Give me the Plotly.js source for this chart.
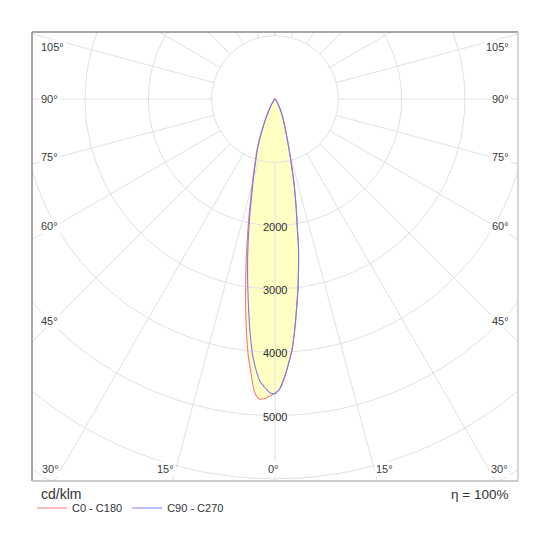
<!DOCTYPE html>
<html>
<head>
<meta charset="utf-8">
<script src="https://cdn.plot.ly/plotly-3.0.1.min.js"></script>
<style>
  html, body { margin: 0; padding: 0; background: #fff; }
  #ldc { width: 550px; height: 550px; }
</style>
</head>
<body>
<div id="ldc"></div>
<script>
// gamma angle from nadir (deg) and luminous intensity (cd/klm) per C-plane
var gamma = [0, 1, 2, 3, 4, 5, 6, 7, 8, 9, 10, 11, 12, 13, 14, 15, 16, 18, 20, 22.5, 25, 27.5, 30, 35, 40, 50, 60, 70, 80, 90];
var c0   = [4650, 4570, 4390, 4170, 3940, 3620, 3290, 2990, 2670, 2370, 2020, 1760, 1520, 1300, 1090, 920, 780, 575, 445, 330, 235, 165, 110, 52, 26, 10, 5, 3, 1, 0];
var c180 = [4650, 4690, 4735, 4745, 4640, 4350, 4060, 3700, 3330, 2960, 2630, 2310, 2030, 1780, 1560, 1385, 1230, 985, 800, 555, 370, 245, 155, 72, 36, 12, 5, 3, 1, 0];
var c90  = [4650, 4570, 4390, 4170, 3940, 3620, 3290, 2990, 2670, 2370, 2010, 1750, 1510, 1290, 1080, 910, 770, 565, 440, 325, 230, 160, 105, 50, 25, 10, 5, 3, 1, 0];
var c270 = [4650, 4640, 4560, 4470, 4290, 4060, 3740, 3400, 3070, 2770, 2480, 2200, 1940, 1700, 1490, 1330, 1190, 955, 773, 530, 355, 235, 150, 70, 35, 12, 5, 3, 1, 0];

var ringValues = [1000, 2000, 3000, 4000, 5000, 6000, 7000, 8000];
var valueLabels = [2000, 3000, 4000, 5000];
var sideAngles = [45, 60, 75, 90, 105];
var bottomAngles = [0, 15, 30];
var unitText = 'cd/klm';
var etaText = 'η = 100%';
var planeNames = ['C0 - C180', 'C90 - C270'];

var RED = '#f47a7a', BLUE = '#7a7af4', FILL = '#ffffc4', GRID = '#e0e0e0';
var FONT = 'Arial, "Liberation Sans", sans-serif';
var rad = Math.PI / 180;

// left half (plane b) from 90 down to 0, then right half (plane a) from 0 up to 90
function planePair(a, b) {
  var x = [], y = [];
  for (var i = gamma.length - 1; i >= 0; i--) {
    x.push(-b[i] * Math.sin(gamma[i] * rad));
    y.push(-b[i] * Math.cos(gamma[i] * rad));
  }
  for (var j = 1; j < gamma.length; j++) {
    x.push(a[j] * Math.sin(gamma[j] * rad));
    y.push(-a[j] * Math.cos(gamma[j] * rad));
  }
  return {x: x, y: y};
}

var red = planePair(c0, c180);
var blue = planePair(c90, c270);

// polar grid: rings and rays every 15 deg, rays start at the first ring
var gx = [], gy = [];
ringValues.forEach(function(r) {
  for (var a = 0; a <= 360; a += 2) {
    gx.push(r * Math.sin(a * rad));
    gy.push(-r * Math.cos(a * rad));
  }
  gx.push(null); gy.push(null);
});
for (var a = -180; a <= 180; a += 15) {
  gx.push(1000 * Math.sin(a * rad), 9000 * Math.sin(a * rad), null);
  gy.push(-1000 * Math.cos(a * rad), -9000 * Math.cos(a * rad), null);
}

var smooth = {shape: 'spline', smoothing: 0.7};
var data = [
  {x: red.x, y: red.y, mode: 'lines', fill: 'toself', fillcolor: FILL,
   line: Object.assign({width: 0, color: FILL}, smooth), showlegend: false, hoverinfo: 'skip'},
  {x: blue.x, y: blue.y, mode: 'lines', fill: 'toself', fillcolor: FILL,
   line: Object.assign({width: 0, color: FILL}, smooth), showlegend: false, hoverinfo: 'skip'},
  {x: gx, y: gy, mode: 'lines', line: {color: GRID, width: 1}, showlegend: false, hoverinfo: 'skip'},
  {x: red.x, y: red.y, mode: 'lines', name: planeNames[0], line: Object.assign({color: RED, width: 1.1}, smooth)},
  {x: blue.x, y: blue.y, mode: 'lines', name: planeNames[1], line: Object.assign({color: BLUE, width: 1.1}, smooth)}
];

var annotations = [];
function angleLabel(x, y, txt, anchor) {
  annotations.push({
    x: x, y: y, xref: 'x', yref: 'y', text: txt, showarrow: false,
    xanchor: anchor, yanchor: 'middle', bgcolor: 'white', borderpad: 1,
    font: {family: FONT, size: 11, color: '#3a3a3a'}
  });
}
sideAngles.forEach(function(g) {
  var yy = Math.min(-3540 / Math.tan(g * rad) + 35, 821);
  if (g === 90) yy = 0;
  angleLabel(-3720, yy, g + '°', 'left');
  angleLabel(3720, yy, g + '°', 'right');
});
bottomAngles.forEach(function(g) {
  var xx = 5844 * Math.tan(g * rad);
  if (g === 0) {
    angleLabel(-20, -5844, g + '°', 'center');
  } else {
    angleLabel(-xx, -5844, g + '°', 'right');
    angleLabel(xx, -5844, g + '°', 'left');
  }
});
valueLabels.forEach(function(v) {
  annotations.push({
    x: 0, y: -v - 20, xref: 'x', yref: 'y', text: String(v), showarrow: false,
    font: {family: FONT, size: 11, color: '#2e2e2e'}
  });
});
annotations.push(
  {x: 0.0144, y: -0.0296, xref: 'paper', yref: 'paper', text: unitText, showarrow: false,
   xanchor: 'left', yanchor: 'middle', font: {family: FONT, size: 14, color: '#333'}},
  {x: 0.984, y: -0.0296, xref: 'paper', yref: 'paper', text: etaText, showarrow: false,
   xanchor: 'right', yanchor: 'middle', font: {family: FONT, size: 13.5, color: '#333'}}
);

var layout = {
  width: 550,
  height: 550,
  margin: {l: 32, r: 32, t: 32, b: 69, pad: 0},
  paper_bgcolor: 'white',
  plot_bgcolor: 'white',
  xaxis: {range: [-3838, 3838], visible: false, fixedrange: true},
  yaxis: {range: [-6034, 1058], visible: false, fixedrange: true},
  showlegend: true,
  legend: {
    orientation: 'h', x: 0, xanchor: 'left', y: -0.028, yanchor: 'top',
    font: {family: FONT, size: 11, color: '#333'}, bgcolor: 'rgba(0,0,0,0)',
    itemwidth: 30, tracegroupgap: 0
  },
  annotations: annotations,
  shapes: [
    {type: 'line', xref: 'paper', yref: 'paper', x0: 0, y0: 1, x1: 1, y1: 1, line: {color: '#8a8a8a', width: 1.5}},
    {type: 'line', xref: 'paper', yref: 'paper', x0: 0, y0: 0, x1: 0, y1: 1, line: {color: '#8a8a8a', width: 1.5}},
    {type: 'line', xref: 'paper', yref: 'paper', x0: 1, y0: 0, x1: 1, y1: 1, line: {color: '#c8c8c8', width: 1.5}},
    {type: 'line', xref: 'paper', yref: 'paper', x0: 0, y0: 0, x1: 1, y1: 0, line: {color: '#b8b8b8', width: 1.5}}
  ]
};

Plotly.newPlot('ldc', data, layout, {displayModeBar: false, staticPlot: true});
</script>
</body>
</html>
